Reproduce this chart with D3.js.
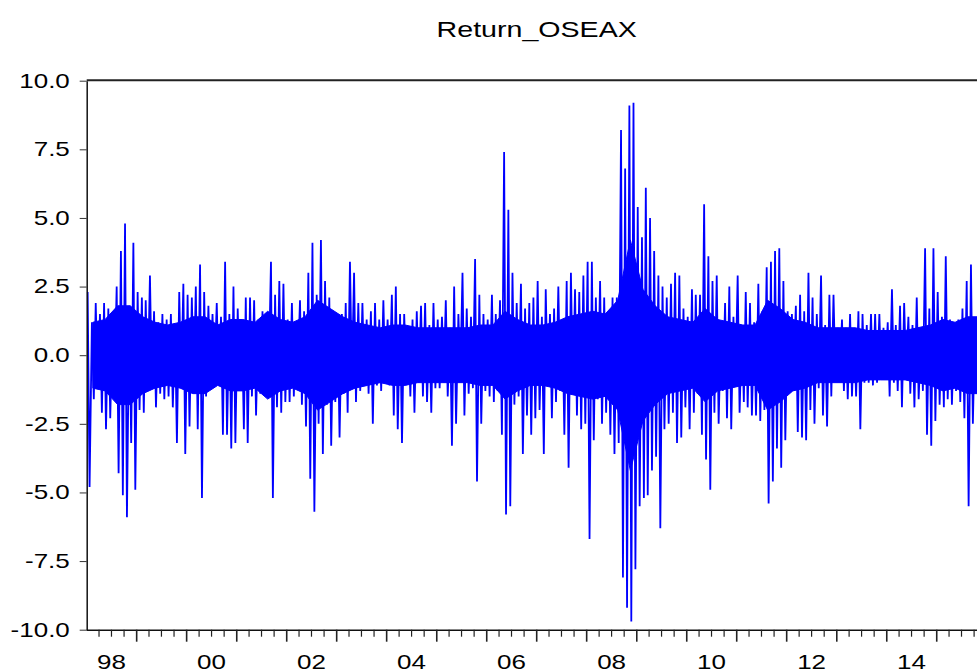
<!DOCTYPE html>
<head>
<title>Return_OSEAX</title>
<meta charset="utf-8">
<style>
body { margin: 0; background: #fff; }
svg { display: block; }
text { font-family: Arial, "Liberation Sans", sans-serif; fill: #000; }
.line { fill: none; stroke: #0000ff; stroke-width: 1.8px; stroke-linejoin: miter; }
.core { fill: #0000ff; stroke: #0000ff; stroke-width: 1px; }
.frame { stroke: #222; fill: none; }
</style>
</head>
<body>
<svg width="977" height="672"></svg>
<script src="https://cdn.jsdelivr.net/npm/d3@7"></script>
<script>
// monthly high / low of the daily return, Jan 1998 .. Oct 2015
const startYear = 1998;
const hi = [
  2.3,1.2,1.9,1.5,1.9,1.7,1.1,2.5,3.8,4.8,1.8,4.1,2.3,2.1,2.0,2.9,1.6,1.2,1.5,1.3,1.5,1.1,2.3,2.6,2.2,2.1,2.5,
  3.3,2.3,1.8,1.5,1.9,1.4,3.4,1.5,2.5,1.7,1.0,2.1,2.1,2.0,1.3,1.6,1.0,3.4,2.2,2.7,2.6,1.3,1.9,1.1,2.0,1.6,3.0,
  4.1,2.2,4.2,2.7,2.1,1.3,1.3,1.5,1.9,3.4,3.0,1.9,1.9,1.3,1.6,1.9,1.3,2.0,1.3,2.2,2.5,1.5,1.5,1.0,1.3,1.6,1.8,
  1.9,1.1,1.9,1.3,1.4,2.0,1.0,2.5,1.5,3.0,1.7,1.4,3.5,2.2,1.5,1.3,2.2,1.5,2.0,7.4,5.3,3.0,1.9,2.6,1.7,1.9,2.1,
  2.7,1.4,2.4,1.5,1.7,2.5,1.3,2.7,3.0,2.4,2.3,2.9,3.4,3.4,2.1,2.7,2.1,1.5,2.1,2.1,8.2,6.8,9.1,9.2,5.4,4.3,6.1,
  5.0,3.8,2.9,2.5,2.1,2.6,3.0,2.9,1.7,1.4,2.4,2.2,2.2,5.5,3.6,2.7,2.9,1.2,1.9,2.5,1.4,2.9,1.1,2.3,1.9,1.2,2.6,
  1.6,3.2,3.4,3.8,3.9,2.7,1.6,1.5,1.8,2.2,1.6,3.0,2.1,1.5,2.9,1.1,2.2,2.2,1.0,1.3,1.0,1.5,0.9,1.6,1.5,1.1,
  1.5,1.5,1.5,1.0,1.2,2.4,1.1,1.8,1.9,1.4,1.1,2.1,0.8,3.9,1.7,3.9,2.3,1.4,3.6,1.3,1.0,1.3,1.7,2.7,3.3,1.1
];
const lo = [
  -4.8,-1.6,-1.1,-2.1,-2.7,-2.3,-1.1,-4.3,-5.1,-5.9,-3.2,-4.9,-2.0,-2.1,-1.3,-1.2,-1.9,-1.4,-1.6,-1.5,-1.9,-3.2,-1.2,-3.6,-2.6,-1.2,-2.7,
  -5.2,-1.5,-1.0,-0.7,-1.0,-2.9,-2.9,-3.4,-3.2,-1.0,-2.7,-3.2,-1.5,-2.2,-1.4,-1.4,-0.8,-5.2,-1.9,-2.1,-1.7,-1.7,-1.5,-0.7,-1.8,-2.6,-4.5,
  -5.7,-2.5,-3.6,-1.8,-3.3,-1.7,-3.0,-1.4,-2.1,-0.8,-1.7,-1.3,-0.9,-1.4,-2.5,-1.1,-1.3,-0.9,-1.1,-2.2,-2.7,-3.2,-0.6,-1.5,-2.1,-1.0,-1.5,
  -1.7,-2.1,-1.2,-1.2,-0.7,-1.5,-3.3,-2.5,-0.8,-2.2,-1.4,-1.2,-4.6,-2.5,-1.3,-1.5,-1.7,-1.3,-2.9,-5.8,-5.5,-1.8,-1.5,-3.6,-2.2,-2.9,-2.3,
  -2.0,-3.6,-1.1,-2.3,-1.7,-1.3,-2.9,-4.1,-1.3,-2.2,-2.7,-2.5,-6.7,-3.1,-1.6,-2.5,-2.1,-2.9,-3.6,-3.2,-8.1,-9.2,-9.7,-7.8,-5.5,-5.2,-5.1,
  -4.2,-3.7,-6.3,-2.7,-2.5,-2.1,-3.2,-3.0,-1.9,-2.7,-2.1,-1.4,-2.9,-3.8,-4.9,-2.1,-2.5,-1.3,-2.3,-2.7,-1.1,-2.1,-1.7,-1.9,-2.2,-2.2,-2.4,
  -2.0,-5.4,-4.6,-3.4,-4.1,-3.1,-1.1,-0.4,-2.8,-3.0,-3.1,-2.0,-2.5,-1.2,-2.2,-2.6,-1.5,-0.8,-0.7,-1.3,-1.6,-1.5,-1.5,-2.7,-1.0,-1.0,
  -1.1,-1.0,-0.8,-0.8,-1.5,-1.0,-1.3,-1.9,-0.6,-1.4,-1.9,-1.6,-1.3,-2.9,-3.3,-2.4,-1.8,-1.9,-1.6,-1.8,-1.3,-1.7,-2.3,-5.5,-2.5,-1.3
];
// quarterly half-width of the solid blue core, 1998Q1 .. 2015Q4
const core = [
  1.2,1.3,1.8,1.8, 1.4,1.2,1.1,1.2, 1.4,1.4,1.1,1.3, 1.3,1.2,1.6,1.3,
  1.2,1.4,2.0,1.7, 1.4,1.2,1.1,1.0, 1.1,1.1,1.0,1.0, 1.0,1.0,1.0,1.1,
  1.1,1.6,1.3,1.1, 1.1,1.2,1.4,1.5, 1.6,1.5,2.0,4.2, 2.4,1.8,1.4,1.3,
  1.2,1.7,1.3,1.2, 1.1,1.1,2.0,1.7, 1.3,1.2,1.0,1.0, 1.0,1.0,0.9,0.9,
  0.9,0.9,1.0,1.1, 1.3,1.2,1.4,1.4
];
const yTicks = [-10, -7.5, -5, -2.5, 0, 2.5, 5, 7.5, 10];
const title = "Return_OSEAX";

const svg = d3.select("svg"),
    pLeft = 86.7, pRight = 986.7, pTop = 80.7, pBottom = 629.7,
    stretch = 1.3;

const x = d3.scaleTime()
    .domain([new Date(startYear, 0, 1), new Date(2016, 0, 1)])
    .range([pLeft, pRight]);
const y = d3.scaleLinear()
    .domain([-10, 10])
    .range([pBottom, pTop]);

// two points per month: the high, then the low
let pts = [];
hi.forEach((h, i) => {
  pts.push([new Date(startYear, i, 8), h]);
  pts.push([new Date(startYear, i, 22), lo[i]]);
});

const line = d3.line()
    .x(d => x(d[0]))
    .y(d => y(d[1]));

const area = d3.area()
    .x((d, i) => x(new Date(startYear, i * 3 + 1, 15)))
    .y0(d => y(-d))
    .y1(d => y(d));

svg.append("defs").append("clipPath").attr("id", "clip")
  .append("rect")
    .attr("x", pLeft).attr("y", pTop - 1)
    .attr("width", pRight - pLeft).attr("height", pBottom - pTop + 2);

const plot = svg.append("g").attr("clip-path", "url(#clip)");
plot.append("path")
    .datum(core)
    .attr("class", "core")
    .attr("d", area);
plot.append("path")
    .datum(pts)
    .attr("class", "line")
    .attr("d", line);

// frame: top line
svg.append("line").attr("class", "frame")
    .attr("x1", pLeft).attr("x2", pRight)
    .attr("y1", pTop - 0.5).attr("y2", pTop - 0.5)
    .attr("stroke-width", 2);

// y axis
const gy = svg.append("g")
    .attr("transform", "translate(" + pLeft + ",0)")
    .call(d3.axisLeft(y).tickValues(yTicks).tickSize(7).tickSizeOuter(0).tickFormat(d => d.toFixed(1)));
gy.select(".domain").attr("stroke", "#111").attr("stroke-width", 1.5);
gy.selectAll(".tick line").attr("stroke", "#333");
gy.selectAll(".tick text")
    .attr("x", -13)
    .attr("font-size", 20)
    .attr("font-family", "Arial, 'Liberation Sans', sans-serif")
    .attr("transform", "scale(" + stretch + ",1)");

// x axis: quarter ticks, year ticks, labels every other year at mid-year
const gx = svg.append("g");
gx.append("line")
    .attr("x1", pLeft).attr("x2", pRight)
    .attr("y1", pBottom + 0.5).attr("y2", pBottom + 0.5)
    .attr("stroke", "#111").attr("stroke-width", 1.5);
const quarters = d3.timeMonth.every(3).range(new Date(startYear, 3, 1), new Date(2016, 0, 1));
gx.selectAll(".qt").data(quarters).join("line")
    .attr("x1", d => x(d)).attr("x2", d => x(d))
    .attr("y1", pBottom).attr("y2", d => d.getMonth() === 0 ? pBottom + 12 : pBottom + 7)
    .attr("stroke", "#222").attr("stroke-width", d => d.getMonth() === 0 ? 1.6 : 1.2);
const labelYears = d3.range(startYear, 2016, 2);
gx.selectAll(".yl").data(labelYears).join("text")
    .attr("text-anchor", "middle")
    .attr("font-size", 20)
    .attr("transform", d => "translate(" + x(new Date(d, 6, 1)) + "," + (pBottom + 39) + ") scale(" + stretch + ",1)")
    .text(d => d3.timeFormat("%y")(new Date(d, 0, 1)));

// title
svg.append("text")
    .attr("text-anchor", "middle")
    .attr("font-size", 22)
    .attr("transform", "translate(" + ((pLeft + pRight) / 2) + ",37) scale(" + stretch + ",1)")
    .text(title);
</script>
</body>
